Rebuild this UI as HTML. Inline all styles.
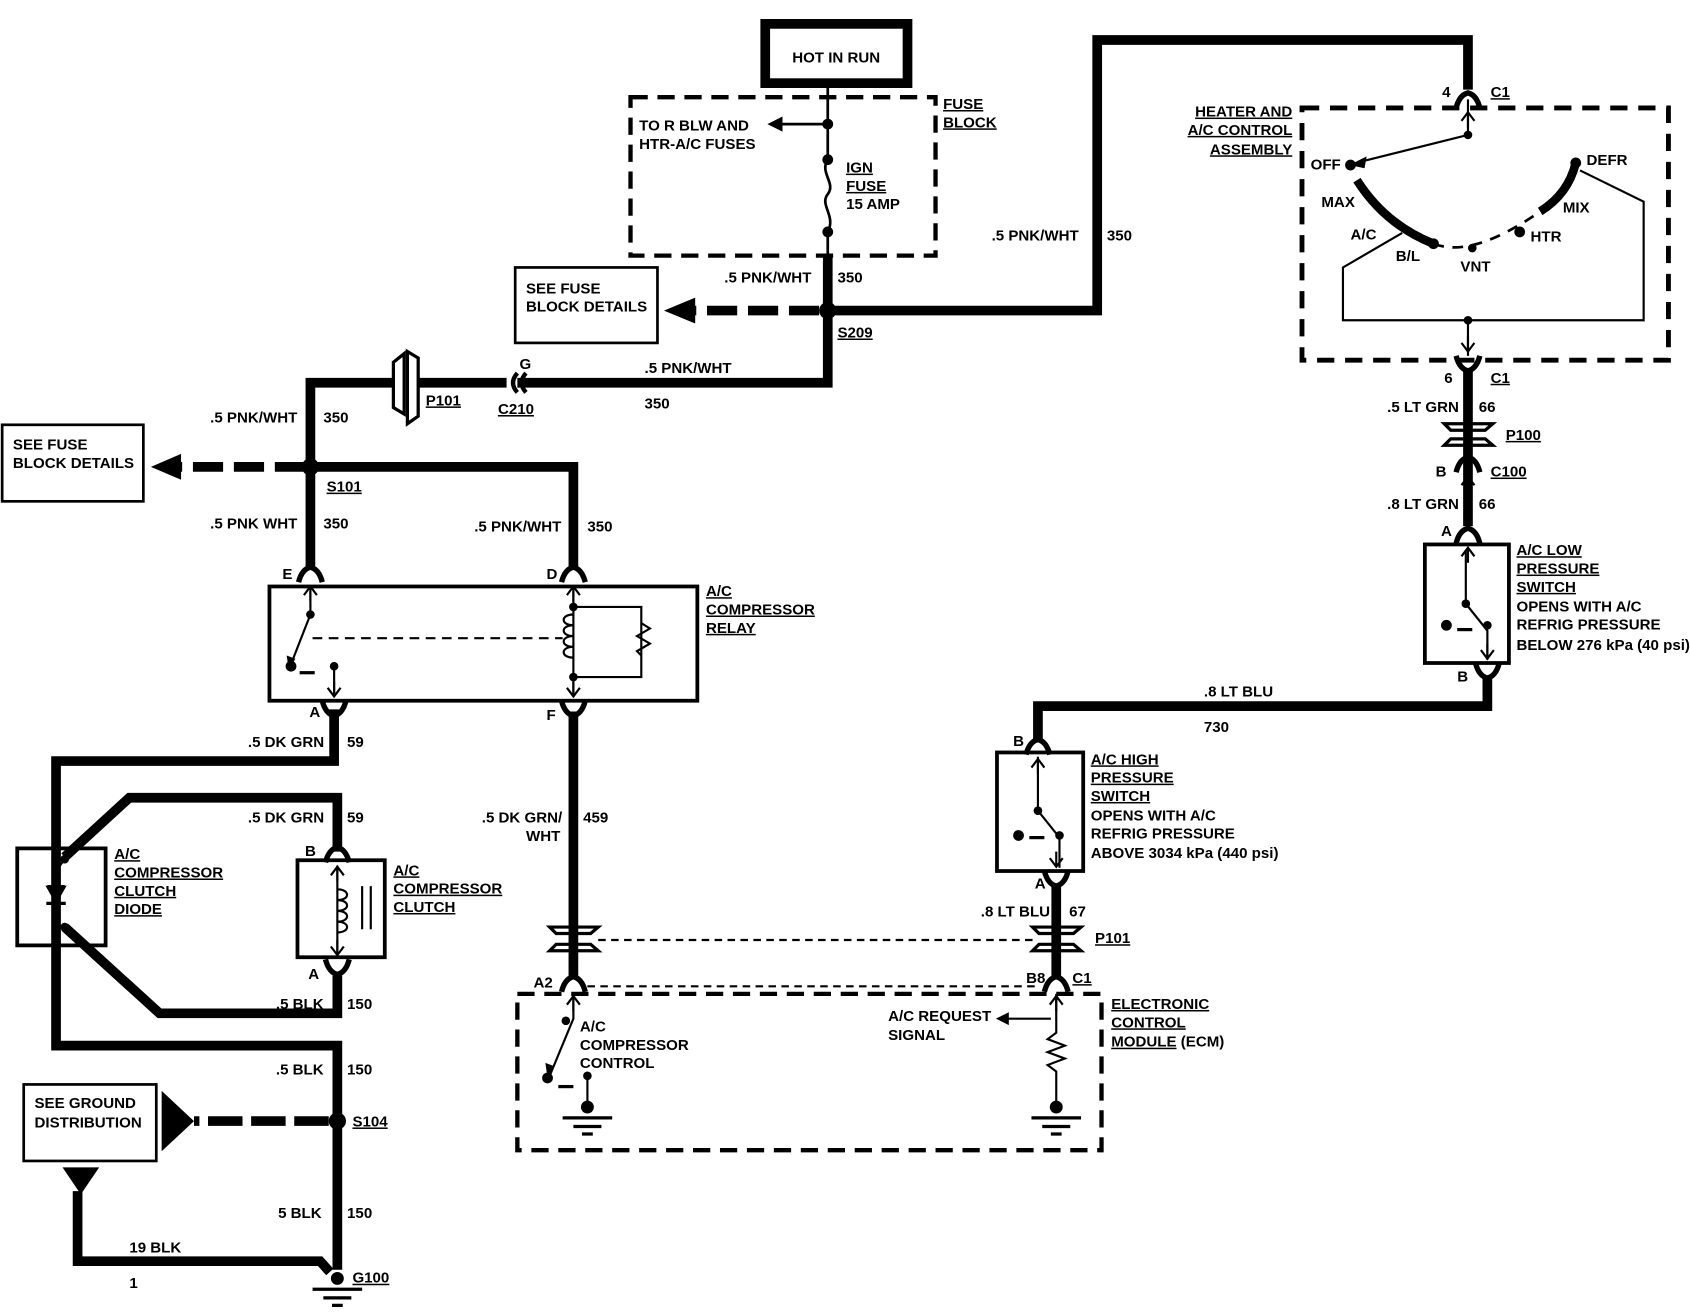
<!DOCTYPE html>
<html><head><meta charset="utf-8"><style>
html,body{margin:0;padding:0;background:#fff}
svg{display:block}
text{font-family:"Liberation Sans Narrow","Liberation Sans",sans-serif;font-weight:bold;font-size:14px;fill:#000}
.u{text-decoration:underline}
</style></head><body>
<svg width="1690" height="1312" viewBox="0 0 1568 1217" xmlns="http://www.w3.org/2000/svg">
<defs>
<g id="cin"><path d="M-11,8 Q-8,-4 0,-6 Q8,-4 11,8" fill="none" stroke="#000" stroke-width="5"/><path d="M-6,20 L0,12 L6,20 M0,12 L0,26" fill="none" stroke="#000" stroke-width="2"/></g>
<g id="cout"><path d="M-11,-8 Q-8,4 0,6 Q8,4 11,-8" fill="none" stroke="#000" stroke-width="5"/><path d="M-6,-20 L0,-12 L6,-20 M0,-12 L0,-26" fill="none" stroke="#000" stroke-width="2"/></g>
<g id="gnd"><circle cx="0" cy="0" r="6"/><path d="M-23,10 H23 M-13,18 H13 M-5,25 H5" stroke="#000" stroke-width="3"/></g>
</defs>
<g fill="none" stroke="#000" stroke-linejoin="miter">
<!-- HOT IN RUN -->
<rect x="710" y="22" width="132" height="55" stroke-width="9"/>
<!-- fuse block -->
<rect x="585" y="90" width="283" height="147" stroke-width="4" stroke-dasharray="16,9"/>
<path d="M768,80 V148 M768,215 V240" stroke-width="2.5"/>
<path d="M768,148 C760,160 776,170 768,180 C760,190 776,200 768,215" stroke-width="2.5"/>
<path d="M768,115 H722" stroke-width="2.5"/>
<!-- main thick wires -->
<g stroke-width="9">
<path d="M768,237 V355 H480"/>
<path d="M768,288 H1018 V37 H1362 V83"/>
<path d="M470,355 H388 M365,355 H288 V525"/>
<path d="M288,433 H532 V525"/>
<path d="M310,658 V706 H52 V970 H313 V1178"/>
<path d="M60,795 L120,740 H313 V790"/>
<path d="M313,905 V940 H148 L60,860"/>
<path d="M532,660 V908"/>
<path d="M72,1105 V1170 H297 L306,1180"/>
<path d="M1362,343 V488"/>
<path d="M1380,627 V655 H963 V688"/>
<path d="M980,822 V905"/>
</g>
<!-- dashed thick arrows -->
<path d="M760,288 H640" stroke-width="9" stroke-dasharray="28,10"/>
<path d="M283,433 H165" stroke-width="9" stroke-dasharray="28,10"/>
<path d="M305,1040 H180" stroke-width="9" stroke-dasharray="32,8"/>
<!-- boxes -->
<rect x="478" y="248" width="132" height="70" stroke-width="2.5"/>
<rect x="2" y="394" width="131" height="71" stroke-width="2.5"/>
<rect x="22" y="1006" width="123" height="71" stroke-width="2.5"/>
<rect x="250" y="544" width="397" height="106" stroke-width="3.5"/>
<rect x="16" y="787" width="82" height="90" stroke-width="3.5"/>
<rect x="276" y="798" width="81" height="90" stroke-width="3.5"/>
<rect x="1322" y="505" width="78" height="110" stroke-width="3.5"/>
<rect x="925" y="698" width="80" height="110" stroke-width="3.5"/>
<rect x="480" y="922" width="542" height="145" stroke-width="4" stroke-dasharray="16,9"/>
<rect x="1208" y="100" width="340" height="234" stroke-width="4.5" stroke-dasharray="16,10"/>
<!-- P101 upper -->
<path d="M365,336 L375,328 V384 L365,378 Z" stroke-width="3"/>
<path d="M378,326 L388,332 V386 L378,393 Z" stroke-width="3"/>
<!-- C210 -->
<path d="M480,346 Q472,355 480,364 M488,346 Q480,355 488,364" stroke-width="4"/>
<!-- relay internals -->
<path d="M288,548 V570 L270,616 M310,618 V645 M532,548 V645" stroke-width="2"/>
<path d="M290,592 H522" stroke-width="2" stroke-dasharray="9,6"/>
<path d="M278,624 H292" stroke-width="3"/>
<path d="M532,563 H595 V628 H532 M532,570 C520,570 520,580 532,580 C520,580 520,590 532,590 C520,590 520,600 532,600 C520,600 520,610 532,610" stroke-width="2"/>
<path d="M595,578 L603,583 L591,590 L603,597 L591,604 L595,608" stroke-width="2"/>
<!-- diode -->
<path d="M52,787 V877 M44,822 H60 M60,797 L52,808" stroke-width="2"/>
<path d="M43,822 L61,822 L52,838 Z" fill="#000" stroke-width="1"/>
<path d="M43,838 H61" stroke-width="3"/>
<!-- clutch -->
<path d="M313,803 V885 M313,825 C325,825 325,835 313,835 C325,835 325,845 313,845 C325,845 325,855 313,855 C325,855 325,865 313,865 M336,822 V862 M344,822 V862" stroke-width="2"/>
<!-- P101 lower -->
<path d="M510,860 H555 L548,866 H516 Z M516,876 H548 L555,882 H510 Z" stroke-width="3"/>
<path d="M958,860 H1003 L996,866 H964 Z M964,876 H996 L1003,882 H958 Z" stroke-width="3"/>
<path d="M555,872 H958" stroke-width="2" stroke-dasharray="7,5"/>
<path d="M545,915 H965" stroke-width="2" stroke-dasharray="7,5"/>
<!-- P100 -->
<path d="M1340,393 H1385 L1378,399 H1346 Z M1346,407 H1378 L1385,413 H1340 Z" stroke-width="3"/>
<!-- ECM internals -->
<path d="M532,922 V945 L510,998 M545,998 V1025 M980,922 V958 L972,964 L988,970 L972,976 L988,982 L972,988 L980,994 V1025 M975,945 H935" stroke-width="2"/>
<path d="M518,1008 H532" stroke-width="3"/>
<!-- low switch -->
<path d="M1360,510 V560 L1380,585 V612 M1342,580 V580" stroke-width="2"/>
<path d="M1352,584 H1366" stroke-width="3"/>
<!-- high switch -->
<path d="M963,702 V752 L983,777 V805" stroke-width="2"/>
<path d="M955,777 H969" stroke-width="3"/>
<!-- heater control internals -->
<path d="M1362,92 V125 L1262,150" stroke-width="2"/>
<path d="M1259,167 Q1285,208 1330,226" stroke-width="8"/>
<path d="M1330,226 Q1366,240 1429,196" stroke-width="2.5" stroke-dasharray="10,8"/>
<path d="M1429,196 Q1455,180 1462,151" stroke-width="8"/>
<path d="M1466,158 L1525,187 V297 H1246 V248 L1301,216 M1362,297 V330" stroke-width="2"/>
<!-- ground triangles -->
</g>
<g fill="#000">
<path d="M712,115 L726,108 V122 Z"/>
<path d="M616,288 L645,276 V300 Z"/>
<path d="M140,433 L168,421 V445 Z"/>
<path d="M150,1012 L180,1040 L150,1068 Z"/>
<path d="M58,1083 H92 L75,1108 Z"/>
<path d="M924,945 L936,939 V951 Z"/>
<path d="M1252,153 L1268,145 L1266,156 Z"/>
<path d="M268,622 L266,608 L274,611 Z"/>
<path d="M508,1000 L506,986 L514,989 Z"/>
<circle cx="768" cy="115" r="5"/><circle cx="768" cy="148" r="5"/><circle cx="768" cy="215" r="5"/>
<circle cx="768" cy="288" r="8"/><circle cx="288" cy="433" r="8"/><circle cx="313" cy="1040" r="8"/>
<circle cx="288" cy="570" r="4"/><circle cx="270" cy="618" r="5"/><circle cx="310" cy="618" r="4"/>
<circle cx="532" cy="563" r="4"/><circle cx="532" cy="628" r="4"/>
<circle cx="60" cy="797" r="4"/><circle cx="60" cy="860" r="4"/>
<circle cx="525" cy="947" r="4"/><circle cx="508" cy="1000" r="5"/><circle cx="545" cy="998" r="4"/>
<circle cx="1360" cy="560" r="4"/><circle cx="1342" cy="580" r="5"/><circle cx="1380" cy="580" r="4"/>
<circle cx="963" cy="752" r="4"/><circle cx="945" cy="775" r="5"/><circle cx="983" cy="775" r="4"/>
<circle cx="1362" cy="125" r="4"/><circle cx="1253" cy="153" r="5"/><circle cx="1462" cy="151" r="5"/>
<circle cx="1366" cy="230" r="4"/><circle cx="1410" cy="215" r="5"/><circle cx="1330" cy="226" r="5"/><circle cx="1362" cy="297" r="4"/>
</g>
<use href="#gnd" x="313" y="1186"/><use href="#gnd" x="545" y="1027"/><use href="#gnd" x="980" y="1027"/>
<use href="#cin" x="1362" y="92"/><use href="#cout" x="1362" y="338"/><use href="#cin" x="1362" y="430"/><use href="#cin" x="1362" y="496"/>
<use href="#cout" x="1380" y="623"/><use href="#cin" x="963" y="692"/><use href="#cout" x="980" y="816"/>
<use href="#cin" x="980" y="912"/><use href="#cin" x="532" y="912"/>
<use href="#cin" x="288" y="532"/><use href="#cin" x="532" y="532"/>
<use href="#cout" x="310" y="658"/><use href="#cout" x="532" y="658"/>
<use href="#cin" x="313" y="792"/><use href="#cout" x="313" y="898"/>
<!-- texts -->
<text x="735" y="58">HOT IN RUN</text>
<text x="875" y="101" class="u">FUSE</text><text x="875" y="118" class="u">BLOCK</text>
<text x="593" y="121">TO R BLW AND</text><text x="593" y="138">HTR-A/C FUSES</text>
<text x="785" y="160" class="u">IGN</text><text x="785" y="177" class="u">FUSE</text><text x="785" y="194">15 AMP</text>
<text x="488" y="272">SEE FUSE</text><text x="488" y="289">BLOCK DETAILS</text>
<text x="672" y="262">.5 PNK/WHT</text><text x="777" y="262">350</text><text x="777" y="313" class="u">S209</text>
<text x="920" y="223">.5 PNK/WHT</text><text x="1027" y="223">350</text>
<text x="598" y="346">.5 PNK/WHT</text><text x="598" y="379">350</text>
<text x="482" y="342">G</text><text x="462" y="384" class="u">C210</text><text x="395" y="376" class="u">P101</text>
<text x="195" y="392">.5 PNK/WHT</text><text x="300" y="392">350</text>
<text x="12" y="417">SEE FUSE</text><text x="12" y="434">BLOCK DETAILS</text>
<text x="303" y="456" class="u">S101</text>
<text x="195" y="490">.5 PNK WHT</text><text x="300" y="490">350</text>
<text x="440" y="493">.5 PNK/WHT</text><text x="545" y="493">350</text>
<text x="262" y="537">E</text><text x="507" y="537">D</text>
<text x="655" y="553" class="u">A/C</text><text x="655" y="570" class="u">COMPRESSOR</text><text x="655" y="587" class="u">RELAY</text>
<text x="287" y="665">A</text><text x="507" y="668">F</text>
<text x="230" y="693">.5 DK GRN</text><text x="322" y="693">59</text>
<text x="230" y="763">.5 DK GRN</text><text x="322" y="763">59</text>
<text x="447" y="763">.5 DK GRN/</text><text x="488" y="780">WHT</text><text x="541" y="763">459</text>
<text x="283" y="794">B</text><text x="286" y="908">A</text>
<text x="106" y="797" class="u">A/C</text><text x="106" y="814" class="u">COMPRESSOR</text><text x="106" y="831" class="u">CLUTCH</text><text x="106" y="848" class="u">DIODE</text>
<text x="365" y="812" class="u">A/C</text><text x="365" y="829" class="u">COMPRESSOR</text><text x="365" y="846" class="u">CLUTCH</text>
<text x="256" y="936">.5 BLK</text><text x="322" y="936">150</text>
<text x="256" y="997">.5 BLK</text><text x="322" y="997">150</text>
<text x="32" y="1028">SEE GROUND</text><text x="32" y="1046">DISTRIBUTION</text>
<text x="327" y="1045" class="u">S104</text>
<text x="258" y="1130">5 BLK</text><text x="322" y="1130">150</text>
<text x="120" y="1162">19 BLK</text><text x="120" y="1195">1</text><text x="327" y="1190" class="u">G100</text>
<text x="495" y="916">A2</text><text x="952" y="912">B8</text><text x="995" y="912" class="u">C1</text>
<text x="538" y="957">A/C</text><text x="538" y="974">COMPRESSOR</text><text x="538" y="991">CONTROL</text>
<text x="824" y="947">A/C REQUEST</text><text x="824" y="965">SIGNAL</text>
<text x="1031" y="936" class="u">ELECTRONIC</text><text x="1031" y="953" class="u">CONTROL</text><text x="1031" y="971"><tspan class="u">MODULE</tspan> (ECM)</text>
<text x="910" y="850">.8 LT BLU</text><text x="992" y="850">67</text><text x="1016" y="875" class="u">P101</text>
<text x="960" y="824">A</text><text x="940" y="692">B</text>
<text x="1012" y="709" class="u">A/C HIGH</text><text x="1012" y="726" class="u">PRESSURE</text><text x="1012" y="743" class="u">SWITCH</text>
<text x="1012" y="761">OPENS WITH A/C</text><text x="1012" y="778">REFRIG PRESSURE</text><text x="1012" y="796">ABOVE 3034 kPa (440 psi)</text>
<text x="1117" y="646">.8 LT BLU</text><text x="1117" y="679">730</text>
<text x="1352" y="632">B</text><text x="1337" y="497">A</text>
<text x="1407" y="515" class="u">A/C LOW</text><text x="1407" y="532" class="u">PRESSURE</text><text x="1407" y="549" class="u">SWITCH</text>
<text x="1407" y="567">OPENS WITH A/C</text><text x="1407" y="584">REFRIG PRESSURE</text><text x="1407" y="603">BELOW 276 kPa (40 psi)</text>
<text x="1287" y="382">.5 LT GRN</text><text x="1372" y="382">66</text><text x="1397" y="408" class="u">P100</text>
<text x="1332" y="442">B</text><text x="1383" y="442" class="u">C100</text>
<text x="1287" y="472">.8 LT GRN</text><text x="1372" y="472">66</text>
<text x="1338" y="90">4</text><text x="1383" y="90" class="u">C1</text>
<text x="1340" y="355">6</text><text x="1383" y="355" class="u">C1</text>
<text x="1199" y="108" text-anchor="end" class="u">HEATER AND</text><text x="1199" y="125" text-anchor="end" class="u">A/C CONTROL</text><text x="1199" y="143" text-anchor="end" class="u">ASSEMBLY</text>
<text x="1216" y="157">OFF</text><text x="1226" y="192">MAX</text><text x="1253" y="222">A/C</text><text x="1295" y="242">B/L</text>
<text x="1355" y="252">VNT</text><text x="1420" y="224">HTR</text><text x="1450" y="197">MIX</text><text x="1472" y="153">DEFR</text>
</svg>
</body></html>
